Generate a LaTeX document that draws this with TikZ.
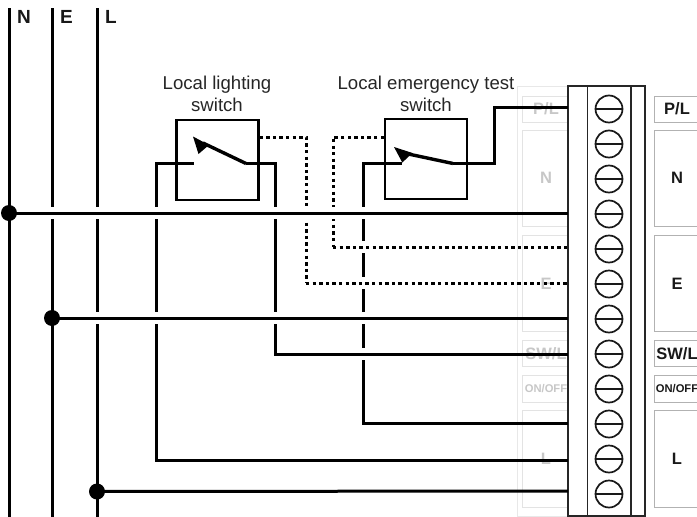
\documentclass[tikz,border=0pt]{standalone}
\usepackage{fontspec}
\setmainfont{Liberation Sans}
\tikzset{
  wire/.style={black,line width=3pt,line join=miter},
  dotwire/.style={black,line width=3pt,dash pattern=on 3.3pt off 3.3pt},
  halo/.style={white,line width=12pt},
  junction/.style={circle,fill=black,draw=none,minimum size=16pt,inner sep=0pt},
  switchbox/.style={draw=black,line width=2.2pt,minimum width=82pt,minimum height=80pt,inner sep=0pt},
  caption/.style={font=\fontsize{18.6pt}{21.5pt}\selectfont,align=center,text=black!85,inner sep=0pt},
  busname/.style={font=\fontsize{19pt}{20pt}\selectfont\bfseries,text=black!90,inner sep=0pt},
  labelbox/.style={draw=black!30,line width=1pt},
  ghostbox/.style={draw=black!11,line width=1pt},
  outerghost/.style={draw=black!9,line width=1pt},
  termtext/.style={font=\fontsize{16.5pt}{18pt}\selectfont\bfseries,text=black!90,inner sep=0pt},
  ghosttext/.style={font=\fontsize{16.5pt}{18pt}\selectfont\bfseries,text=black!22,inner sep=0pt},
  blockline/.style={draw=black!85,line width=1.8pt},
  screw/.style={circle,draw=black!90,line width=1.7pt,fill=white,minimum size=27pt,inner sep=0pt},
  blade/.style={black,line width=3.4pt},
  bladehead/.style={fill=black,draw=none}
}
\newcommand{\screwat}[2]{%
  \node[screw] (#1) at (609,#2) {};
  \draw[black!90,line width=1.7pt] (#1.west) -- (#1.east);
}
\begin{document}
\begin{tikzpicture}[x=1pt,y=-1pt]
\useasboundingbox (0,0) rectangle (697,517);
% faded left labels
\draw[outerghost] (517.5,86) rectangle (575,516);
\foreach \a/\b in {96/122,130.5/226.5,235/331.5,340.5/366.5,375.5/402,410.5/507}
  \draw[ghostbox] (522.5,\a) rectangle (575,\b);
\node[ghosttext] (gpl) at (546,109) {P/L};
\node[ghosttext] (gn) at (546,178) {N};
\node[ghosttext] (ge) at (546,283.5) {E};
\node[ghosttext] (gsw) at (546,354) {SW/L};
\node[ghosttext,font=\fontsize{11.2pt}{12pt}\selectfont\bfseries] (gon) at (546,389) {ON/OFF};
\node[ghosttext] (gl) at (546,459) {L};
% right label boxes
\foreach \a/\b in {96/122,130.5/226.5,235/331.5,340.5/366.5,375.5/402,410.5/507}
  \draw[labelbox] (654,\a) -- (698,\a) (654,\a) -- (654,\b) -- (698,\b);
\node[termtext] (pl) at (677,109) {P/L};
\node[termtext] (n) at (677,178) {N};
\node[termtext] (e) at (677,283.5) {E};
\node[termtext] (sw) at (677,354) {SW/L};
\node[termtext,font=\fontsize{11.2pt}{12pt}\selectfont\bfseries] (on) at (677,389) {ON/OFF};
\node[termtext] (l) at (677,459) {L};
% terminal block
\fill[white] (568,86) rectangle (645,516);
\node[blockline,fill=none,minimum width=77pt,minimum height=430pt,inner sep=0pt] (block) at (606.5,301) {};
\draw[blockline] (587.5,86) -- (587.5,516) (630.7,86) -- (630.7,516);
\screwat{t1}{109}
\screwat{t2}{144}
\screwat{t3}{179}
\screwat{t4}{214}
\screwat{t5}{249}
\screwat{t6}{284}
\screwat{t7}{319}
\screwat{t8}{354}
\screwat{t9}{389}
\screwat{t10}{424}
\screwat{t11}{459}
\screwat{t12}{494}
% captions and bus names
\node[caption] (capa) at (217,94) {Local lighting\\switch};
\node[caption] (capb) at (426,94) {Local emergency test\\switch};
\node[busname] (nn) at (24,17) {N};
\node[busname] (ne) at (66.5,17) {E};
\node[busname] (nl) at (111,17) {L};
% switch boxes
\node[switchbox] (swa) at (217.5,160) {};
\node[switchbox] (swb) at (426,159) {};
% named points
\coordinate (bn0) at (9,8);   \coordinate (bn1) at (9,517);
\coordinate (be0) at (52,8);  \coordinate (be1) at (52,517);
\coordinate (bl0) at (97,8);  \coordinate (bl1) at (97,517);
\coordinate (ta) at (568,107.5);
\coordinate (tn) at (568,213);
\coordinate (tde) at (568,247);
\coordinate (tdl) at (568,283);
\coordinate (te) at (568,318);
\coordinate (tsw) at (568,354);
\coordinate (ton) at (568,423);
\coordinate (tll) at (568,460);
\coordinate (tl) at (568,491);
\node[junction] (jn) at (9,213) {};
\node[junction] (je) at (52,318) {};
\node[junction] (jl) at (97,491.5) {};
% vertical wires
\draw[wire] (bn0) -- (bn1);
\draw[wire] (be0) -- (be1);
\draw[wire] (bl0) -- (bl1);
\draw[wire] (tll) -- (156,460) -- (156,163.5) -- (194,163.5);
\draw[wire] (tsw) -- (275.5,354) -- (275.5,163.5) -- (246,163.5);
\draw[wire] (ton) -- (363.3,423) -- (363.3,163.5) -- (402,163.5);
\draw[wire] (ta) -- (494.5,107.5) -- (494.5,163.5) -- (453,163.5);
\draw[dotwire] (swa.east |- 0,137) -- (306,137) -- (306,283);
\draw[dotwire] (swb.west |- 0,137) -- (333,137) -- (333,247);
% crossing gaps
\draw[halo] (20,213) -- (372,213);
\draw[halo] (64,318) -- (372,318);
\draw[halo] (284,354) -- (372,354);
\draw[halo] (342,247) -- (372,247);
\draw[halo] (315,283) -- (372,283);
% horizontal wires
\draw[wire] (jn.center) -- (tn);
\draw[wire] (je.center) -- (te);
\draw[wire] (jl.center) -- (tl);
\draw[wire] (275.5,354) -- (tsw);
\draw[dotwire] (306,283) -- (tdl);
\draw[dotwire] (333,247) -- (tde);
% switch blades
\draw[blade] (203,143) -- (246,163.5);
\fill[bladehead] (193,136.5) -- (198.5,154) -- (209,145) -- cycle;
\draw[blade] (406,153.5) -- (453,163.5);
\fill[bladehead] (394,147) -- (402.3,162.5) -- (412.5,153) -- cycle;
\end{tikzpicture}
\end{document}
